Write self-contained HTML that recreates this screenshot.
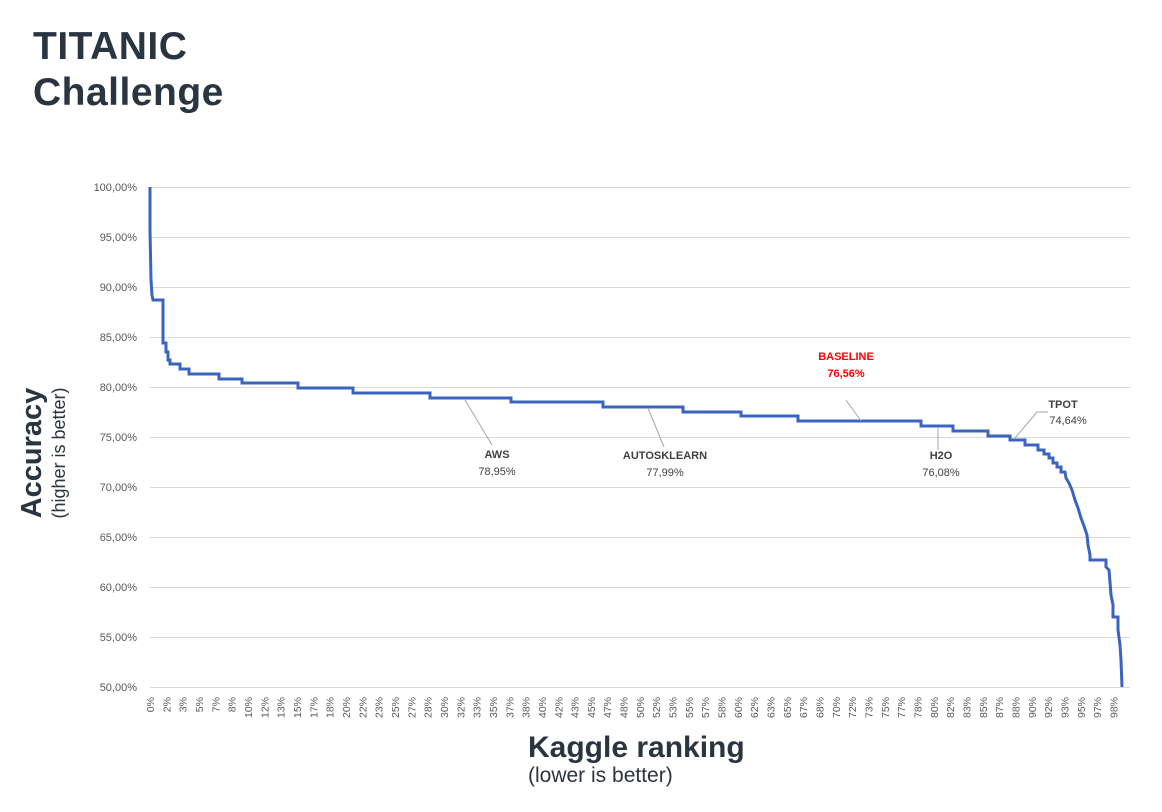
<!DOCTYPE html>
<html><head><meta charset="utf-8"><style>
body{margin:0;background:#fff;width:1162px;height:812px;overflow:hidden;font-family:"Liberation Sans",sans-serif}
.t{position:absolute;left:33px;top:24px;font-size:39px;font-weight:bold;color:#2a3542;line-height:46px;letter-spacing:0.5px}
</style></head><body>
<div class="t">TITANIC<br>Challenge</div>
<svg width="1162" height="812" style="position:absolute;left:0;top:0" font-family="Liberation Sans, sans-serif">
<g stroke="#d9d9d9" stroke-width="1">
<line x1="150" x2="1130" y1="187.5" y2="187.5"/><line x1="150" x2="1130" y1="237.5" y2="237.5"/>
<line x1="150" x2="1130" y1="287.5" y2="287.5"/><line x1="150" x2="1130" y1="337.5" y2="337.5"/>
<line x1="150" x2="1130" y1="387.5" y2="387.5"/><line x1="150" x2="1130" y1="437.5" y2="437.5"/>
<line x1="150" x2="1130" y1="487.5" y2="487.5"/><line x1="150" x2="1130" y1="537.5" y2="537.5"/>
<line x1="150" x2="1130" y1="587.5" y2="587.5"/><line x1="150" x2="1130" y1="637.5" y2="637.5"/>
<line x1="150" x2="1130" y1="687.5" y2="687.5"/>
</g>
<g font-size="11" fill="#595959" text-anchor="end">
<text x="137" y="191">100,00%</text><text x="137" y="241">95,00%</text><text x="137" y="291">90,00%</text>
<text x="137" y="341">85,00%</text><text x="137" y="391">80,00%</text><text x="137" y="441">75,00%</text>
<text x="137" y="491">70,00%</text><text x="137" y="541">65,00%</text><text x="137" y="591">60,00%</text>
<text x="137" y="641">55,00%</text><text x="137" y="691">50,00%</text>
</g>
<g id="xl" font-size="10.5" fill="#595959" text-anchor="end"></g>
<path fill="none" stroke="#3a64c0" stroke-width="3" d="M150,187 L150,230 L151,280 L152,295 L153,300 L163,300 L163,343 L166,343 L166,352 L168,352 L168,360 L170,360 L170,364 L180,364 L180,369 L189,369 L189,374 L219,374 L219,379 L242,379 L242,383 L298,383 L298,388 L353,388 L353,393 L430,393 L430,398 L511,398 L511,402 L603,402 L603,407 L683,407 L683,412 L741,412 L741,416 L798,416 L798,421 L921,421 L921,426 L953,426 L953,431 L988,431 L988,436 L1010,436 L1010,440 L1025,440 L1025,445 L1038,445 L1038,450 L1044,450 L1044,454 L1049,454 L1049,458 L1053,458 L1053,463 L1057,463 L1057,467 L1061,467 L1061,472 L1065,472 L1066,478 L1069,483 L1072,490 L1075,500 L1078,508 L1081,518 L1084,526 L1087,535 L1088,545 L1090,555 L1090,560 L1106,560 L1106,567 L1109,570 L1110,582 L1111,595 L1113,605 L1113,617 L1118,617 L1118,630 L1120,645 L1121,660 L1122,687"/>
<g stroke="#a6a6a6" stroke-width="1" fill="none">
<line x1="465" y1="400" x2="492" y2="445"/>
<line x1="648" y1="408" x2="664" y2="447"/>
<line x1="846" y1="400" x2="861" y2="421"/>
<line x1="938" y1="427" x2="938" y2="450"/>
<polyline points="1015,438 1037,412 1048,412"/>
</g>
<g font-size="11" text-anchor="middle" fill="#404040">
<text x="497" y="458" font-weight="bold">AWS</text><text x="497" y="475">78,95%</text>
<text x="665" y="459" font-weight="bold">AUTOSKLEARN</text><text x="665" y="476">77,99%</text>
<text x="941" y="459" font-weight="bold">H2O</text><text x="941" y="476">76,08%</text>
<text x="1063" y="408" font-weight="bold">TPOT</text><text x="1068" y="424">74,64%</text>
<text x="846" y="360" font-weight="bold" fill="#ff0000">BASELINE</text><text x="846" y="377" fill="#ff0000" font-weight="bold">76,56%</text>
</g>
<g transform="translate(41,453) rotate(-90)" text-anchor="middle" fill="#2a3542">
<text x="0" y="0" font-size="29" font-weight="bold">Accuracy</text>
<text x="0" y="24" font-size="18">(higher is better)</text>
</g>
<text x="528" y="757" font-size="30" font-weight="bold" fill="#2a3542">Kaggle ranking</text>
<text x="528" y="782" font-size="21" fill="#2a3542">(lower is better)</text>
</svg>
<script>
var g=document.getElementById('xl'),s='';
for(var i=0;i<60;i++){var v=Math.round(i*5/3);var x=154+i*16.33;
s+='<text transform="translate('+x.toFixed(1)+',697) rotate(-90)">'+v+'%</text>';}
g.innerHTML=s;
</script>
</body></html>
